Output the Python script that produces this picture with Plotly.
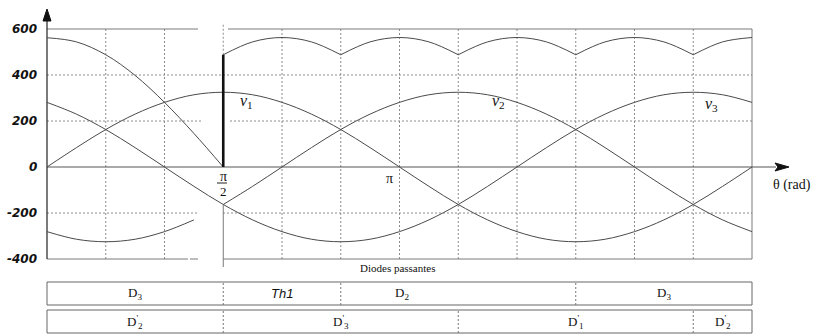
import plotly.graph_objects as go

# ---------------------------------------------------------------
# Three-phase phase voltages (V) sampled every 15 degrees
# ---------------------------------------------------------------
theta = list(range(0, 361, 15))

v1 = [0, 84, 163, 230, 281, 314, 325, 314, 281, 230, 163, 84, 0,
      -84, -163, -230, -281, -314, -325, -314, -281, -230, -163, -84, 0]
v2 = [-281, -314, -325, -314, -281, -230, -163, -84, 0, 84, 163, 230, 281,
      314, 325, 314, 281, 230, 163, 84, 0, -84, -163, -230, -281]
v3 = [281, 230, 163, 84, 0, -84, -163, -230, -281, -314, -325, -314, -281,
      -230, -163, -84, 0, 84, 163, 230, 281, 314, 325, 314, 281]

# Rectified output voltage: before the thyristor fires (0..90 deg)
ud_before = [562, 544, 488, 398, 281, 146, 0]
# and after firing (90..360 deg), six-pulse envelope
ud_after = [488, 544, 563, 544, 488, 544, 563, 544, 488, 544, 563, 544,
            488, 544, 563, 544, 488, 544, 563]

y_ticks = [-400, -200, 0, 200, 400, 600]

# Conduction intervals (degrees) and device names
row1_edges = [0, 90, 150, 270, 360]
row1_names = ["D<sub>3</sub>", "Th1", "D<sub>2</sub>", "D<sub>3</sub>"]
row2_edges = [0, 90, 210, 330, 360]
row2_names = ["D<sup>'</sup><sub>2</sub>", "D<sup>'</sup><sub>3</sub>",
              "D<sup>'</sup><sub>1</sub>", "D<sup>'</sup><sub>2</sub>"]

# ---------------------------------------------------------------
# Canvas geometry: the drawing area spans the whole figure
# ---------------------------------------------------------------
W, H = 817, 335
PX_L, PX_R, PX_T, PX_B = 47, 752, 29, 259
DPP = 360 / (PX_R - PX_L)       # degrees per pixel
VPP = 1000 / (PX_B - PX_T)      # volts per pixel


def xpx(p):
    return (p - PX_L) * DPP


def ypx(p):
    return 600 - (p - PX_T) * VPP


CURVE = "#4a4a4a"
GRID = "#8c8c8c"
BORDER = "#7a7a7a"
SERIF = "Liberation Serif"

fig = go.Figure()


def curve(xs, ys, width=1.0, color=CURVE):
    fig.add_trace(go.Scatter(x=xs, y=ys, mode="lines",
                             line=dict(color=color, width=width, shape="spline"),
                             hoverinfo="skip", showlegend=False))


# phase voltages
curve(theta, v1)
curve(theta, v3)
# v2 is drawn in two pieces (interrupted before pi/2)
curve(theta[:6], v2[:6])
curve(theta[6:], v2[6:])

# output voltage before firing
curve(theta[:7], ud_before)

# output voltage after firing, arc by arc between commutation points
th_after = theta[6:]
xs, ys = [], []
for s in range(0, len(ud_after) - 1, 4):
    e = min(s + 4, len(ud_after) - 1)
    xs += th_after[s:e + 1] + [None]
    ys += ud_after[s:e + 1] + [None]
curve(xs, ys)

# step at the firing instant
fig.add_trace(go.Scatter(x=[theta[6], theta[6]], y=[ud_before[-1], ud_after[0]],
                         mode="lines", line=dict(color="#111111", width=2.6),
                         hoverinfo="skip", showlegend=False))

shapes = []


def seg(x0, y0, x1, y1, color=GRID, width=1, dash="2px,2px", layer="below"):
    shapes.append(dict(type="line", xref="x", yref="y", x0=x0, y0=y0, x1=x1, y1=y1,
                       line=dict(color=color, width=width, dash=dash), layer=layer))


# horizontal dotted grid
seg(0, 400, 360, 400)
seg(0, 200, xpx(202), 200)
seg(xpx(230), 200, 360, 200)
seg(0, -200, xpx(198), -200)
seg(xpx(223), -200, 360, -200)

# vertical dotted grid every 30 degrees
for k in range(1, 12):
    if k == 3:
        continue
    seg(30 * k, -400, 30 * k, 600)
# at pi/2: dotted above the step, solid below the crossing
seg(90, ud_after[0], 90, ypx(23))
seg(90, ypx(205), 90, ypx(267), color=BORDER, dash="solid")

# frame
seg(0, 600, xpx(198), 600, color=BORDER, dash="solid")
seg(xpx(228), 600, 360, 600, color=BORDER, dash="solid")
seg(0, -400, xpx(188), -400, color=BORDER, dash="solid")
seg(xpx(190), -400, xpx(198), -400, color=BORDER, dash="solid")
seg(90, -400, 360, -400, color=BORDER, dash="solid")
seg(360, -400, 360, 600, color=BORDER, dash="solid")

# axes with arrows
seg(0, 0, xpx(776), 0, color="#555555", dash="solid")
seg(0, -400, 0, ypx(19), color="#222222", dash="solid", width=1.2)
shapes.append(dict(type="path", xref="x", yref="y",
                   path=f"M {xpx(775)},{4*VPP} L {xpx(789)},0 L {xpx(775)},{-4*VPP} "
                        f"L {xpx(778)},0 Z",
                   fillcolor="#111111", line=dict(color="#111111", width=1)))
shapes.append(dict(type="path", xref="x", yref="y",
                   path=f"M {xpx(43)},{ypx(21)} L {xpx(47)},{ypx(9)} L {xpx(51)},{ypx(21)} Z",
                   fillcolor="#111111", line=dict(color="#111111", width=1)))

# fraction bar of pi/2
seg(xpx(217), ypx(183), xpx(227), ypx(183), color="#222222", dash="solid")

# conduction tables
rows = [(row1_edges, row1_names, 282, 305), (row2_edges, row2_names, 310, 333)]
for edges, names, top, bot in rows:
    y0, y1 = ypx(bot), ypx(top)
    shapes.append(dict(type="rect", xref="x", yref="y", x0=edges[0], x1=edges[-1],
                       y0=y0, y1=y1, line=dict(color="#666666", width=1),
                       fillcolor="rgba(0,0,0,0)", layer="below"))
    for e in edges[1:-1]:
        seg(e, y0, e, y1, color="#777777")

annotations = []


def text(x, y, t, size=13, family=SERIF, xanchor="center", xshift=0, yshift=0,
         color="#111111"):
    annotations.append(dict(x=x, y=y, xref="x", yref="y", text=t, showarrow=False,
                            xanchor=xanchor, yanchor="middle", xshift=xshift,
                            yshift=yshift, font=dict(family=family, size=size,
                                                     color=color)))


# y tick labels
for v in y_ticks:
    text(0, v, f"<b><i>{v}</i></b>", size=12, family="DejaVu Sans",
         xanchor="right", xshift=-8)

# curve names
text(xpx(246), ypx(101), "<i>v</i><sub>1</sub>", size=16)
text(xpx(498), ypx(101), "<i>v</i><sub>2</sub>", size=16)
text(xpx(711), ypx(104), "<i>v</i><sub>3</sub>", size=16)

# angle marks
text(90, ypx(176), "π", size=14)
text(90, ypx(191), "2", size=13)
text(180, ypx(178), "π", size=14, xshift=-10)
text(xpx(792), ypx(185), "θ (rad)", size=14)
text(xpx(397), ypx(268), "Diodes passantes", size=11)

# device labels
label_shift = {(0, 2): -56}
for r, (edges, names, top, bot) in enumerate(rows):
    yc = ypx((top + bot) / 2)
    for i, name in enumerate(names):
        xc = (edges[i] + edges[i + 1]) / 2
        if name == "Th1":
            text(xc, yc, "<i>Th1</i>", size=13, family="Liberation Sans")
        else:
            text(xc, yc, name, size=13, xshift=label_shift.get((r, i), 0))

fig.update_layout(
    width=W, height=H, autosize=False,
    margin=dict(l=0, r=0, t=0, b=0, pad=0),
    paper_bgcolor="white", plot_bgcolor="white",
    xaxis=dict(range=[-PX_L * DPP, 360 + (W - PX_R) * DPP], visible=False,
               fixedrange=True),
    yaxis=dict(range=[600 - (H - PX_T) * VPP, 600 + PX_T * VPP], visible=False,
               fixedrange=True),
    shapes=shapes, annotations=annotations, showlegend=False,
)

fig.write_html("out.html")
